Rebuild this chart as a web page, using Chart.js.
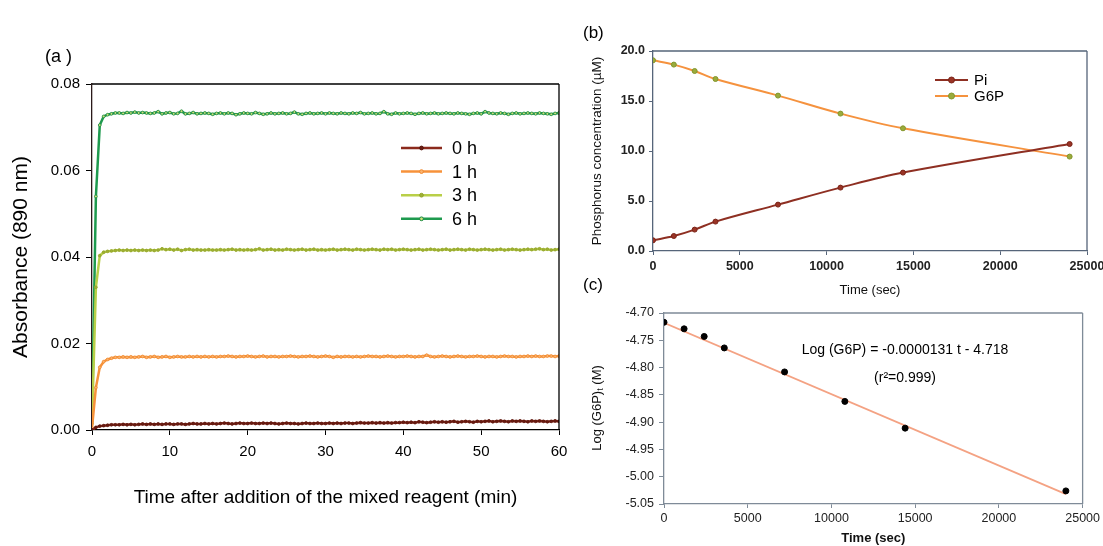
<!DOCTYPE html>
<html>
<head>
<meta charset="utf-8">
<script src="https://cdn.jsdelivr.net/npm/chart.js@4.4.1/dist/chart.umd.min.js"></script>
<style>
  body { margin: 0; background: #fff; overflow: hidden; width: 1103px; height: 546px; position: relative; }
  canvas { position: absolute; }
</style>
</head>
<body>
<canvas id="chartA" width="580" height="546" style="left:0;top:0"></canvas>
<canvas id="chartB" width="530" height="280" style="left:580px;top:20px"></canvas>
<canvas id="chartC" width="523" height="276" style="left:580px;top:270px"></canvas>
<script>
// ---- panel (a): absorbance vs time ----
const minutes = [
  0, 0.5, 1, 1.5, 2, 2.5, 3, 3.5, 4, 4.5,
  5, 5.5, 6, 6.5, 7, 7.5, 8, 8.5, 9, 9.5,
  10, 10.5, 11, 11.5, 12, 12.5, 13, 13.5, 14, 14.5,
  15, 15.5, 16, 16.5, 17, 17.5, 18, 18.5, 19, 19.5,
  20, 20.5, 21, 21.5, 22, 22.5, 23, 23.5, 24, 24.5,
  25, 25.5, 26, 26.5, 27, 27.5, 28, 28.5, 29, 29.5,
  30, 30.5, 31, 31.5, 32, 32.5, 33, 33.5, 34, 34.5,
  35, 35.5, 36, 36.5, 37, 37.5, 38, 38.5, 39, 39.5,
  40, 40.5, 41, 41.5, 42, 42.5, 43, 43.5, 44, 44.5,
  45, 45.5, 46, 46.5, 47, 47.5, 48, 48.5, 49, 49.5,
  50, 50.5, 51, 51.5, 52, 52.5, 53, 53.5, 54, 54.5,
  55, 55.5, 56, 56.5, 57, 57.5, 58, 58.5, 59, 59.5,
  60
];
const abs0h = [
  0.0000, 0.0006, 0.0009, 0.0010, 0.0011, 0.0012, 0.0012, 0.0012, 0.0013, 0.0012,
  0.0013, 0.0012, 0.0013, 0.0014, 0.0013, 0.0014, 0.0013, 0.0014, 0.0013, 0.0014,
  0.0014, 0.0013, 0.0014, 0.0014, 0.0013, 0.0014, 0.0015, 0.0014, 0.0014, 0.0015,
  0.0014, 0.0015, 0.0014, 0.0015, 0.0016, 0.0015, 0.0014, 0.0015, 0.0016, 0.0015,
  0.0015, 0.0016, 0.0015, 0.0015, 0.0016, 0.0015, 0.0016, 0.0015, 0.0014, 0.0015,
  0.0016, 0.0015, 0.0015, 0.0014, 0.0015, 0.0016, 0.0015, 0.0015, 0.0016, 0.0015,
  0.0015, 0.0016, 0.0015, 0.0016, 0.0015, 0.0016, 0.0016, 0.0015, 0.0016, 0.0017,
  0.0016, 0.0016, 0.0017, 0.0016, 0.0017, 0.0016, 0.0017, 0.0016, 0.0017, 0.0017,
  0.0018, 0.0017, 0.0018, 0.0017, 0.0019, 0.0018, 0.0017, 0.0018, 0.0019, 0.0018,
  0.0019, 0.0018, 0.0019, 0.0020, 0.0018, 0.0019, 0.0020, 0.0019, 0.0018, 0.0020,
  0.0019, 0.0020, 0.0021, 0.0019, 0.0020, 0.0021, 0.0020, 0.0019, 0.0021, 0.0020,
  0.0021, 0.0020, 0.0019, 0.0021, 0.0020, 0.0021, 0.0020, 0.0019, 0.0020, 0.0021,
  0.0020
];
const abs1h = [
  0.0005, 0.0098, 0.0145, 0.0158, 0.0163, 0.0166, 0.0168, 0.0168, 0.0169, 0.0168,
  0.0169, 0.0168, 0.0169, 0.0170, 0.0168, 0.0169, 0.0170, 0.0168, 0.0169, 0.0170,
  0.0168, 0.0169, 0.0170, 0.0169, 0.0169, 0.0170, 0.0169, 0.0170, 0.0169, 0.0170,
  0.0169, 0.0170, 0.0169, 0.0170, 0.0170, 0.0171, 0.0170, 0.0169, 0.0170, 0.0170,
  0.0171, 0.0170, 0.0169, 0.0170, 0.0171, 0.0169, 0.0170, 0.0170, 0.0169, 0.0170,
  0.0170, 0.0171, 0.0170, 0.0169, 0.0170, 0.0170, 0.0171, 0.0170, 0.0169, 0.0170,
  0.0171, 0.0170, 0.0168, 0.0170, 0.0169, 0.0170, 0.0170, 0.0169, 0.0170, 0.0169,
  0.0170, 0.0171, 0.0170, 0.0170, 0.0169, 0.0170, 0.0171, 0.0170, 0.0169, 0.0170,
  0.0170, 0.0171, 0.0170, 0.0169, 0.0170, 0.0170, 0.0173, 0.0170, 0.0169, 0.0170,
  0.0171, 0.0170, 0.0169, 0.0170, 0.0171, 0.0170, 0.0169, 0.0170, 0.0170, 0.0171,
  0.0170, 0.0169, 0.0170, 0.0170, 0.0169, 0.0170, 0.0171, 0.0170, 0.0170, 0.0169,
  0.0170, 0.0170, 0.0171, 0.0170, 0.0171, 0.0170, 0.0170, 0.0171, 0.0171, 0.0170,
  0.0171
];
const abs3h = [
  0.0015, 0.0330, 0.0403, 0.0411, 0.0413, 0.0414, 0.0415, 0.0416, 0.0415, 0.0416,
  0.0415, 0.0416, 0.0415, 0.0416, 0.0415, 0.0416, 0.0415, 0.0416, 0.0419, 0.0417,
  0.0418, 0.0416, 0.0418, 0.0415, 0.0417, 0.0418, 0.0416, 0.0417, 0.0416, 0.0416,
  0.0417, 0.0416, 0.0416, 0.0417, 0.0416, 0.0417, 0.0418, 0.0416, 0.0417, 0.0416,
  0.0417, 0.0416, 0.0417, 0.0419, 0.0416, 0.0417, 0.0418, 0.0416, 0.0417, 0.0416,
  0.0418, 0.0417, 0.0416, 0.0417, 0.0418, 0.0416, 0.0417, 0.0418, 0.0416, 0.0417,
  0.0416, 0.0417, 0.0418, 0.0416, 0.0417, 0.0418, 0.0417, 0.0416, 0.0418, 0.0417,
  0.0416, 0.0417, 0.0418, 0.0417, 0.0416, 0.0418, 0.0417, 0.0418, 0.0416, 0.0417,
  0.0418, 0.0417, 0.0416, 0.0417, 0.0418, 0.0416, 0.0417, 0.0418, 0.0417, 0.0416,
  0.0417, 0.0418, 0.0416, 0.0417, 0.0418, 0.0417, 0.0416, 0.0418, 0.0417, 0.0416,
  0.0417, 0.0418, 0.0417, 0.0416, 0.0417, 0.0418, 0.0416, 0.0417, 0.0418, 0.0417,
  0.0416, 0.0417, 0.0418, 0.0417, 0.0418, 0.0419, 0.0417, 0.0418, 0.0416, 0.0417,
  0.0418
];
const abs6h = [
  0.0020, 0.0540, 0.0705, 0.0725, 0.0729, 0.0731, 0.0733, 0.0733, 0.0732, 0.0734,
  0.0733, 0.0735, 0.0733, 0.0734, 0.0733, 0.0732, 0.0733, 0.0736, 0.0731, 0.0733,
  0.0734, 0.0731, 0.0732, 0.0737, 0.0731, 0.0732, 0.0734, 0.0731, 0.0732, 0.0733,
  0.0732, 0.0730, 0.0732, 0.0733, 0.0731, 0.0733, 0.0732, 0.0729, 0.0731, 0.0733,
  0.0732, 0.0731, 0.0734, 0.0732, 0.0730, 0.0731, 0.0733, 0.0731, 0.0732, 0.0733,
  0.0731, 0.0732, 0.0735, 0.0731, 0.0730, 0.0732, 0.0733, 0.0731, 0.0732, 0.0733,
  0.0731, 0.0733, 0.0732, 0.0731, 0.0733, 0.0732, 0.0731, 0.0733, 0.0732, 0.0734,
  0.0731, 0.0732, 0.0733, 0.0731, 0.0732, 0.0736, 0.0731, 0.0730, 0.0733, 0.0731,
  0.0732, 0.0733, 0.0732, 0.0730, 0.0732, 0.0733, 0.0731, 0.0732, 0.0733, 0.0731,
  0.0732, 0.0733, 0.0732, 0.0731, 0.0733, 0.0732, 0.0731, 0.0730, 0.0732, 0.0733,
  0.0731, 0.0736, 0.0733, 0.0732, 0.0731, 0.0733, 0.0732, 0.0730, 0.0732, 0.0733,
  0.0731, 0.0732, 0.0733, 0.0732, 0.0731, 0.0733, 0.0732, 0.0731, 0.0730, 0.0732,
  0.0733
];
const seriesNamesA = ['0 h', '1 h', '3 h', '6 h'];

// ---- panel (b): phosphorus concentration ----
const timeSec = [0, 1200, 2400, 3600, 7200, 10800, 14400, 24000];
const piConc = [1.07, 1.50, 2.14, 2.94, 4.64, 6.34, 7.84, 10.70];
const g6pConc = [19.07, 18.64, 18.00, 17.20, 15.54, 13.74, 12.27, 9.44];

// ---- panel (c): log G6P with linear fit ----
const logG6P = [-4.717, -4.729, -4.743, -4.764, -4.808, -4.862, -4.911, -5.026];
const fitTime = [0, 24000];
const fitLog = [-4.718, -5.032];

const FONT = '"Liberation Sans", Arial, sans-serif';
Chart.defaults.font.family = FONT;

function xy(xs, ys) {
    return xs.map((x, i) => ({ x: x, y: ys[i] }));
}

// frame lines around the plot area
const frameBox = {
    id: 'frameBox',
    afterDraw(chart, args, opts) {
        const a = chart.chartArea, ctx = chart.ctx;
        ctx.save();
        ctx.strokeStyle = opts.color;
        ctx.lineWidth = opts.width;
        ctx.beginPath();
        if (opts.sides.includes('top')) { ctx.moveTo(a.left, a.top); ctx.lineTo(a.right, a.top); }
        if (opts.sides.includes('right')) { ctx.moveTo(a.right, a.top); ctx.lineTo(a.right, a.bottom); }
        ctx.stroke();
        ctx.restore();
    }
};

// free text (panel labels, annotations)
const extraText = {
    id: 'extraText',
    afterDraw(chart, args, opts) {
        const ctx = chart.ctx;
        ctx.save();
        opts.items.forEach(it => {
            ctx.font = it.font;
            ctx.fillStyle = it.color || '#000';
            ctx.textAlign = it.align || 'left';
            ctx.textBaseline = 'middle';
            ctx.fillText(it.text, it.x, it.y);
        });
        ctx.restore();
    }
};

// legend drawn inside the plot
const innerLegend = {
    id: 'innerLegend',
    afterDraw(chart, args, opts) {
        const ctx = chart.ctx;
        ctx.save();
        ctx.font = opts.font;
        ctx.textBaseline = 'middle';
        opts.order.forEach((di, row) => {
            const ds = chart.data.datasets[di];
            const y = opts.y + row * opts.gap;
            ctx.strokeStyle = ds.borderColor;
            ctx.lineWidth = ds.borderWidth;
            ctx.beginPath();
            ctx.moveTo(opts.x, y);
            ctx.lineTo(opts.x + opts.len, y);
            ctx.stroke();
            ctx.beginPath();
            ctx.arc(opts.x + opts.len / 2, y, ds.pointRadius + 0.5, 0, Math.PI * 2);
            ctx.fillStyle = ds.pointBackgroundColor;
            ctx.fill();
            ctx.strokeStyle = ds.pointBorderColor;
            ctx.lineWidth = 1;
            ctx.stroke();
            ctx.fillStyle = '#000';
            ctx.fillText(ds.label, opts.x + opts.len + opts.textGap, y + 1);
        });
        ctx.restore();
    }
};

// ===== chart (a) =====
function lineA(label, data, color, ptFill, ptBorder) {
    return {
        label: label,
        data: xy(minutes, data),
        borderColor: color,
        borderWidth: 2.5,
        pointRadius: 1.4,
        pointBorderWidth: 0.8,
        pointBackgroundColor: ptFill,
        pointBorderColor: ptBorder,
        tension: 0
    };
}

new Chart(document.getElementById('chartA'), {
    type: 'line',
    data: {
        datasets: [
            lineA(seriesNamesA[0], abs0h, '#8b2a1c', '#6a1c12', '#5a170e'),
            lineA(seriesNamesA[1], abs1h, '#f7923a', '#fbb36e', '#f08a30'),
            lineA(seriesNamesA[2], abs3h, '#b9cf48', '#9fb034', '#93a52c'),
            lineA(seriesNamesA[3], abs6h, '#1e9a4e', '#cfe07a', '#178a42')
        ]
    },
    options: {
        responsive: false,
        animation: false,
        devicePixelRatio: 1,
        layout: { padding: { top: 84, right: 21, bottom: 0, left: 0 } },
        scales: {
            x: {
                type: 'linear', min: 0, max: 60,
                ticks: { stepSize: 10, color: '#000', font: { size: 15 }, padding: 8, maxRotation: 0 },
                grid: { drawOnChartArea: false, tickLength: 5, color: '#000' },
                border: { color: '#000', width: 1.3 },
                title: { display: true, text: 'Time after addition of the mixed reagent (min)', color: '#000',
                         font: { size: 19 }, padding: { top: 0, bottom: 37 } },
                afterFit: s => { s.height = 116; }
            },
            y: {
                min: 0, max: 0.08,
                ticks: { stepSize: 0.02, color: '#000', font: { size: 15 }, padding: 6,
                         callback: v => v.toFixed(2) },
                grid: { drawOnChartArea: false, tickLength: 6, color: '#000' },
                border: { color: '#2a1a1a', width: 1.3 },
                title: { display: true, text: 'Absorbance (890 nm)', color: '#000',
                         font: { size: 21 }, padding: { top: 9, bottom: 0 } },
                afterFit: s => { s.width = 92; }
            }
        },
        plugins: {
            legend: { display: false },
            tooltip: { enabled: false },
            frameBox: { color: '#000', width: 1.3, sides: ['top', 'right'] },
            innerLegend: { x: 401, y: 148, gap: 23.6, len: 41, textGap: 10, font: '18px ' + FONT, order: [0, 1, 2, 3] },
            extraText: { items: [{ text: '(a )', x: 45, y: 57, font: '18px ' + FONT }] }
        }
    },
    plugins: [frameBox, innerLegend, extraText]
});

// ===== chart (b) =====
new Chart(document.getElementById('chartB'), {
    type: 'line',
    data: {
        datasets: [
            {
                label: 'Pi', data: xy(timeSec, piConc),
                borderColor: '#8e2f22', borderWidth: 2,
                pointRadius: 2.5, pointBackgroundColor: '#9a3426', pointBorderColor: '#7a2418', pointBorderWidth: 1,
                tension: 0.35
            },
            {
                label: 'G6P', data: xy(timeSec, g6pConc),
                borderColor: '#f5923e', borderWidth: 2,
                pointRadius: 2.5, pointBackgroundColor: '#9aab3c', pointBorderColor: '#84962c', pointBorderWidth: 1,
                tension: 0.35
            }
        ]
    },
    options: {
        responsive: false,
        animation: false,
        devicePixelRatio: 1,
        layout: { padding: { top: 31, right: 23, bottom: 0, left: 0 } },
        scales: {
            x: {
                type: 'linear', min: 0, max: 25000,
                ticks: { stepSize: 5000, color: '#222', font: { size: 12.5, weight: 'bold' }, padding: 4, maxRotation: 0,
                         callback: v => String(v) },
                grid: { drawOnChartArea: false, tickLength: 4, color: '#56657a' },
                border: { color: '#56657a', width: 1.3 },
                title: { display: true, text: 'Time (sec)', color: '#111', font: { size: 13 }, padding: { top: 0, bottom: 2 } },
                afterFit: s => { s.height = 49; }
            },
            y: {
                min: 0, max: 20,
                ticks: { stepSize: 5, color: '#222', font: { size: 12.5, weight: 'bold' }, padding: 4,
                         callback: v => v.toFixed(1) },
                grid: { drawOnChartArea: false, tickLength: 4, color: '#56657a' },
                border: { color: '#56657a', width: 1.3 },
                title: { display: true, text: 'Phosphorus concentration (µM)', color: '#111',
                         font: { size: 13.5 }, padding: { top: 9, bottom: 0 } },
                afterFit: s => { s.width = 73; }
            }
        },
        plugins: {
            legend: { display: false },
            tooltip: { enabled: false },
            frameBox: { color: '#56657a', width: 1.3, sides: ['top', 'right'] },
            innerLegend: { x: 355, y: 60, gap: 16, len: 33, textGap: 6, font: '15px ' + FONT, order: [0, 1] },
            extraText: { items: [{ text: '(b)', x: 3, y: 13, font: '17px ' + FONT }] }
        }
    },
    plugins: [frameBox, innerLegend, extraText]
});

// ===== chart (c) =====
// y title with subscript t
const logTitle = {
    id: 'logTitle',
    afterDraw(chart) {
        const ctx = chart.ctx;
        ctx.save();
        ctx.translate(17, 138);
        ctx.rotate(-Math.PI / 2);
        ctx.fillStyle = '#111';
        ctx.textBaseline = 'middle';
        const big = '13px ' + FONT, small = '9px ' + FONT;
        ctx.font = big;
        const w1 = ctx.measureText('Log (G6P)').width;
        const w3 = ctx.measureText(' (M)').width;
        ctx.font = small;
        const w2 = ctx.measureText('t').width;
        let x = -(w1 + w2 + w3) / 2;
        ctx.font = big;
        ctx.fillText('Log (G6P)', x, 0);
        x += w1;
        ctx.font = small;
        ctx.fillText('t', x, 4);
        x += w2;
        ctx.font = big;
        ctx.fillText(' (M)', x, 0);
        ctx.restore();
    }
};

new Chart(document.getElementById('chartC'), {
    type: 'scatter',
    data: {
        datasets: [
            {
                label: 'data', data: xy(timeSec, logG6P),
                pointRadius: 3, pointBackgroundColor: '#000', pointBorderColor: '#000',
                showLine: false
            },
            {
                label: 'fit', data: xy(fitTime, fitLog),
                borderColor: '#f4a283', borderWidth: 1.8, pointRadius: 0,
                showLine: true
            }
        ]
    },
    options: {
        responsive: false,
        animation: false,
        devicePixelRatio: 1,
        layout: { padding: { top: 43, right: 20, bottom: 0, left: 0 } },
        scales: {
            x: {
                type: 'linear', min: 0, max: 25000,
                ticks: { stepSize: 5000, color: '#222', font: { size: 12.5 }, padding: 3, maxRotation: 0,
                         callback: v => String(v) },
                grid: { drawOnChartArea: false, tickLength: 4, color: '#7f8b98' },
                border: { color: '#7f8b98', width: 1.3 },
                title: { display: true, text: 'Time (sec)', color: '#111', font: { size: 13, weight: 'bold' }, padding: 0 },
                afterFit: s => { s.height = 42; }
            },
            y: {
                min: -5.05, max: -4.70,
                ticks: { stepSize: 0.05, color: '#222', font: { size: 12.5 }, padding: 5,
                         callback: v => v.toFixed(2) },
                grid: { drawOnChartArea: false, tickLength: 5, color: '#7f8b98' },
                border: { color: '#7f8b98', width: 1.3 },
                afterFit: s => { s.width = 84; }
            }
        },
        plugins: {
            legend: { display: false },
            tooltip: { enabled: false },
            frameBox: { color: '#7f8b98', width: 1.3, sides: ['top', 'right'] },
            extraText: { items: [
                { text: '(c)', x: 3, y: 15, font: '17px ' + FONT },
                { text: 'Log (G6P) = -0.0000131 t - 4.718', x: 325, y: 80, font: '14px ' + FONT, align: 'center' },
                { text: '(r²=0.999)', x: 325, y: 108, font: '14px ' + FONT, align: 'center' }
            ] }
        }
    },
    plugins: [frameBox, extraText, logTitle]
});
</script>
</body>
</html>
